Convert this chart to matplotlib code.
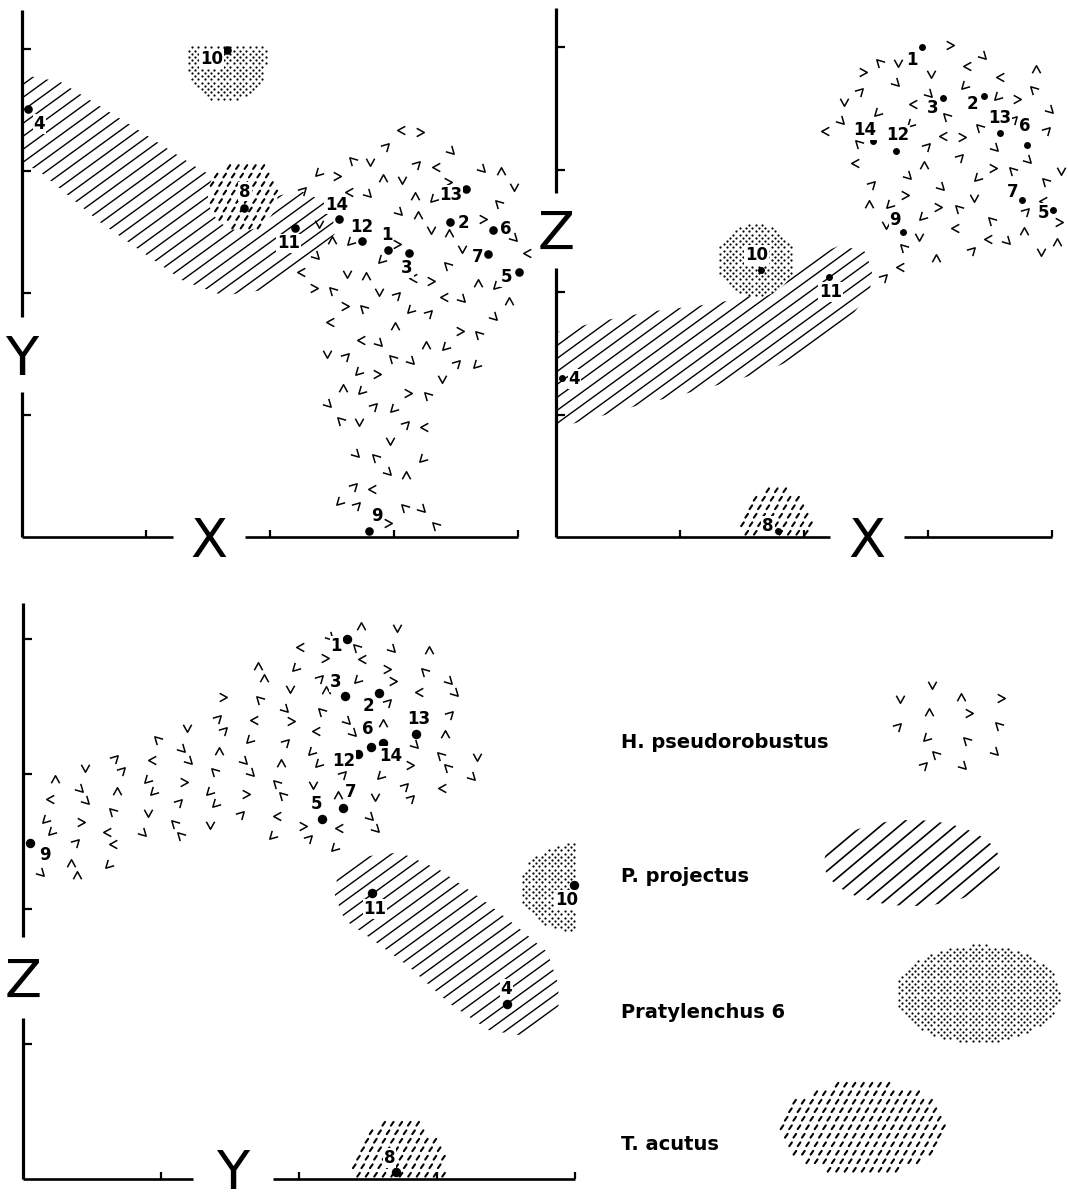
"""Three projections (X-Y, X-Z, Y-Z) of 14 sites with the zones occupied by four nematode species."""

import numpy as np
import matplotlib
matplotlib.use("Agg")
import matplotlib.pyplot as plt
from matplotlib.path import Path
from matplotlib.patches import PathPatch
from matplotlib.collections import LineCollection
from matplotlib.markers import MarkerStyle
from matplotlib.transforms import Affine2D

W, H = 1068, 1203

# site scores on the three axes
sites = ["1", "2", "3", "4", "5", "6", "7", "8", "9", "10", "11", "12", "13", "14"]
score_x = [2.95, 3.45, 3.12, 0.05, 4.01, 3.80, 3.76, 1.79, 2.80, 1.65, 2.20, 2.74, 3.58, 2.56]
score_y = [2.35, 2.58, 2.33, 3.51, 2.17, 2.52, 2.32, 2.70, 0.05, 3.99, 2.53, 2.43, 2.85, 2.61]
score_z = [4.00, 3.60, 3.58, 1.30, 2.67, 3.20, 2.75, 0.05, 2.49, 2.18, 2.12, 3.15, 3.30, 3.23]

species = ["H. pseudorobustus", "P. projectus", "Pratylenchus 6", "T. acutus"]

# species zones in axis units, one set per projection
xy_hp = [(2.24, 3.05), (2.56, 3.25), (3.05, 3.38), (3.45, 3.31), (3.85, 3.09), (4.06, 2.80),
         (4.08, 2.35), (3.98, 1.94), (3.77, 1.57), (3.53, 1.20), (3.29, 0.96), (3.25, 0.55),
         (3.41, 0.06), (2.44, 0.03), (2.60, 0.55), (2.48, 0.96), (2.42, 1.45), (2.44, 1.86),
         (2.23, 2.07), (2.24, 2.52)]
xy_pp = [(0, 3.79), (0.31, 3.73), (0.87, 3.38), (1.44, 3.01), (1.92, 2.76), (2.24, 2.84),
         (2.50, 2.72), (2.52, 2.48), (2.24, 2.22), (1.92, 2.02), (1.62, 1.98), (1.30, 2.10),
         (0.63, 2.58), (0.15, 2.99), (0, 3.07)]
xy_pr = dict(center=(1.65, 4.03), radii=(0.33, 0.45), arc=(180, 360), power=0.75)
xy_ta = dict(center=(1.78, 2.80), radii=(0.28, 0.29), arc=(0, 360))

xz_hp = [(2.21, 3.57), (2.45, 3.89), (2.77, 4.04), (3.18, 4.06), (3.58, 3.98), (3.90, 3.85),
         (4.08, 3.61), (4.10, 3.08), (4.08, 2.51), (4.05, 2.18), (3.82, 2.22), (3.50, 2.30),
         (3.18, 2.30), (2.94, 2.18), (2.81, 1.98), (2.61, 2.02), (2.53, 2.30), (2.45, 2.51),
         (2.37, 2.75), (2.25, 3.08), (2.15, 3.36)]
xz_pp = [(0, 1.67), (0.35, 1.76), (0.76, 1.84), (1.16, 1.89), (1.52, 1.95), (1.81, 2.14),
         (2.05, 2.28), (2.29, 2.38), (2.49, 2.33), (2.55, 2.18), (2.53, 1.99), (2.37, 1.79),
         (1.97, 1.47), (1.65, 1.34), (1.16, 1.20), (0.68, 1.08), (0.27, 0.96), (0, 0.89)]
xz_pr = dict(center=(1.61, 2.26), radii=(0.31, 0.30), arc=(0, 360))
xz_ta = dict(center=(1.77, 0.0), radii=(0.30, 0.41), arc=(0, 180))

yz_hp = [(0.04, 2.88), (0.27, 3.03), (0.63, 3.19), (1.10, 3.34), (1.57, 3.73), (1.93, 3.99),
         (2.30, 4.14), (2.73, 4.10), (3.02, 3.92), (3.31, 3.55), (3.33, 3.03), (3.13, 2.81),
         (2.73, 2.66), (2.48, 2.55), (2.33, 2.40), (2.08, 2.45), (1.72, 2.55), (1.21, 2.57),
         (0.70, 2.35), (0.34, 2.18), (0.09, 2.18), (0.04, 2.44)]
yz_pp = [(2.28, 2.27), (2.49, 2.39), (2.73, 2.42), (3.02, 2.29), (3.33, 2.07), (3.58, 1.87),
         (3.80, 1.68), (3.88, 1.44), (3.88, 1.27), (3.64, 1.06), (3.38, 1.10), (3.09, 1.30),
         (2.80, 1.57), (2.55, 1.76), (2.33, 1.92), (2.26, 2.10)]
yz_pr = dict(center=(4.01, 2.16), radii=(0.41, 0.33), arc=(90, 270))
yz_ta = dict(center=(2.72, 0.0), radii=(0.35, 0.45), arc=(0, 180))

# label offsets in pixels (dx right, dy down) for each projection
off_xy = {"1": (-1, -15), "2": (14, 1), "3": (-2, 15), "4": (11, 15), "5": (-13, 5), "6": (13, -1),
          "7": (-11, 3), "8": (1, -16), "9": (8, -15), "10": (-15, 9), "11": (-6, 15),
          "12": (0, -14), "13": (-15, 6), "14": (-3, -14)}
off_xz = {"1": (-10, 13), "2": (-11, 8), "3": (-10, 10), "4": (12, 1), "5": (-10, 3), "6": (-2, -19),
          "7": (-10, -8), "8": (-10, -5), "9": (-8, -12), "10": (-4, -15), "11": (2, 15),
          "12": (2, -16), "13": (0, -15), "14": (-9, -11)}
off_yz = {"1": (-11, 7), "2": (-11, 13), "3": (-9, -14), "4": (-1, -15), "5": (-6, -15), "6": (-3, -18),
          "7": (8, -16), "8": (-6, -14), "9": (15, 12), "10": (-7, 15), "11": (3, 16),
          "12": (-15, 7), "13": (2, -15), "14": (8, 13)}

NUM_FONT = dict(family=["Liberation Sans Narrow", "DejaVu Sans"], weight="bold", size=12)
AXIS_FONT = dict(family=["DejaVu Sans"], size=39)
VEE = Path([(-0.55, 0.5), (0.0, -0.5), (0.55, 0.5)], [Path.MOVETO, Path.LINETO, Path.LINETO])


def arc_outline(zone):
    t = np.radians(np.linspace(zone["arc"][0], zone["arc"][1], 73))
    p = zone.get("power", 1.0)
    c, s = np.cos(t), np.sin(t)
    cx, cy = zone["center"]
    a, b = zone["radii"]
    return np.c_[cx + a * np.sign(c) * np.abs(c) ** p, cy + b * np.sign(s) * np.abs(s) ** p]


def zone_patch(ax, outline, zorder):
    P = np.asarray(outline, float)
    patch = PathPatch(Path(np.vstack([P, P[:1]]), closed=True), fc="white", ec="none", zorder=zorder)
    ax.add_patch(patch)
    return patch


def line_hatch(ax, outline, unit, angle, gap, lw, zorder):
    patch = zone_patch(ax, outline, zorder)
    ux, uy = unit
    P = np.asarray(outline, float) * [ux, uy]
    d = np.array([np.cos(np.radians(angle)), np.sin(np.radians(angle))])
    n = np.array([-d[1], d[0]])
    pn, pd = P @ n, P @ d
    segs = [[(n * t + d * (pd.min() - 2)) / [ux, uy], (n * t + d * (pd.max() + 2)) / [ux, uy]]
            for t in np.arange(pn.min() + gap * 0.5, pn.max(), gap)]
    lc = LineCollection(segs, colors="k", linewidths=lw, zorder=zorder + 0.1, capstyle="butt")
    ax.add_collection(lc, autolim=False)
    lc.set_clip_path(patch)


def dot_fill(ax, outline, unit, zorder, step=3.2, ms=1.6):
    zone_patch(ax, outline, zorder)
    ux, uy = unit
    P = np.asarray(outline, float) * [ux, uy]
    path = Path(P)
    (x0, y0), (x1, y1) = P.min(0), P.max(0)
    pts = []
    for i, yy in enumerate(np.arange(y0 + step / 2, y1, step)):
        for xx in np.arange(x0 + (i % 2) * step, x1, 2 * step):
            if path.contains_point((xx, yy)):
                pts.append((xx, yy))
    pts = np.array(pts) / [ux, uy]
    ax.plot(pts[:, 0], pts[:, 1], ls="none", marker="o", ms=ms, mew=0, color="k",
            zorder=zorder + 0.1, clip_on=False)


def dash_fill(ax, outline, unit, zorder, angle=55, length=4.6, dx=8.5, dy=8.5, lw=1.5):
    zone_patch(ax, outline, zorder)
    ux, uy = unit
    P = np.asarray(outline, float) * [ux, uy]
    path = Path(P)
    (x0, y0), (x1, y1) = P.min(0), P.max(0)
    h = np.array([np.cos(np.radians(angle)), np.sin(np.radians(angle))]) * length / 2
    segs = []
    for i, yy in enumerate(np.arange(y0 + dy / 2, y1, dy)):
        for xx in np.arange(x0 + (i * 4.2) % dx, x1, dx):
            c = np.array([xx, yy])
            if path.contains_point(c):
                segs.append([(c - h) / [ux, uy], (c + h) / [ux, uy]])
    ax.add_collection(LineCollection(segs, colors="k", linewidths=lw, zorder=zorder + 0.1,
                                     capstyle="round"), autolim=False)


def chevrons(ax, outline, unit, avoid, zorder, cell=600.0, ms=6.0, near=10):
    # scattered "v" marks spread evenly with a low-discrepancy (R2) sequence
    ux, uy = unit
    P = np.asarray(outline, float) * [ux, uy]
    path = Path(P)
    (x0, y0), (x1, y1) = P.min(0), P.max(0)
    n = int((x1 - x0) * (y1 - y0) / cell)
    k = np.arange(1, n + 1)
    u = (0.5 + k * 0.7548776662) % 1.0
    v = (0.5 + k * 0.5698402910) % 1.0
    groups = {}
    for kk, uu, vv in zip(k, u, v):
        c = np.array([x0 + uu * (x1 - x0), y0 + vv * (y1 - y0)])
        if not path.contains_point(c):
            continue
        if len(avoid) and np.hypot(*(np.asarray(avoid) - c).T).min() < near:
            continue
        a = 45 * ((kk * 3 + kk // 8) % 8)
        groups.setdefault(a, []).append(c)
    for a, cs in groups.items():
        cs = np.array(cs) / [ux, uy]
        ax.plot(cs[:, 0], cs[:, 1], ls="none",
                marker=MarkerStyle(VEE, transform=Affine2D().rotate_deg(a)),
                ms=ms, mfc="none", mec="k", mew=1.1, zorder=zorder, clip_on=False)


def draw_panel(box, origin, unit, hvals, vvals, zones, offsets, hlab, vlab, hgap, vgap, vtop, ms,
               hdrop=20):
    L, T, R, B = box
    ox, oy = origin
    ux, uy = unit
    ax = fig.add_axes([L / W, 1 - B / H, (R - L) / W, (B - T) / H])
    ax.set_axis_off()
    hp, pp, pr, ta = zones

    # zones
    line_hatch(ax, pp, unit, angle=36, gap=10.5, lw=1.0, zorder=1)
    dot_fill(ax, arc_outline(pr), unit, zorder=2)
    dash_fill(ax, arc_outline(ta), unit, zorder=2)
    avoid = []
    for s, hx, vy in zip(sites, hvals, vvals):
        dx, dy = offsets[s]
        avoid += [(hx * ux, vy * uy), (hx * ux + dx, vy * uy - dy)]
    chevrons(ax, hp, unit, avoid, zorder=3)

    # axes with a gap for the axis letter
    kw = dict(color="k", solid_capstyle="butt", zorder=4, clip_on=False)
    ax.plot([0, hgap[0]], [0, 0], lw=1.9, **kw)
    ax.plot([hgap[1], 4.0], [0, 0], lw=1.9, **kw)
    ax.plot([0, 0], [0, vgap[0]], lw=2.3, **kw)
    ax.plot([0, 0], [vgap[1], vtop], lw=2.3, **kw)
    for k in [1, 2, 3, 4]:
        ax.plot([k, k], [0, 7 / uy], lw=1.6, **kw)
        ax.plot([0, 9 / ux], [k, k], lw=1.6, **kw)
    ax.annotate(hlab, (np.mean(hgap), 0), xytext=(0, -hdrop), textcoords="offset pixels",
                ha="center", va="baseline", **AXIS_FONT)
    ax.annotate(vlab, (0, np.mean(vgap)), xytext=(0, -20), textcoords="offset pixels",
                ha="center", va="baseline", **AXIS_FONT)

    # sites
    ax.plot(hvals, vvals, ls="none", marker="o", ms=ms, color="k", mew=0, zorder=5, clip_on=False)
    for s, hx, vy in zip(sites, hvals, vvals):
        dx, dy = offsets[s]
        ax.annotate(s, (hx, vy), xytext=(dx, -dy), textcoords="offset pixels",
                    ha="center", va="center", zorder=6, **NUM_FONT,
                    bbox=dict(boxstyle="square,pad=0.05", fc="white", ec="none"))

    ax.set_xlim((L - ox) / ux, (R - ox) / ux)
    ax.set_ylim((oy - B) / uy, (oy - T) / uy)
    return ax


fig = plt.figure(figsize=(W / 100, H / 100), dpi=100)

draw_panel((0, 0, 540, 560), (22, 537), (124, 122), score_x, score_y,
           (xy_hp, xy_pp, xy_pr, xy_ta), off_xy, "X", "Y",
           hgap=(1.22, 1.80), vgap=(1.19, 1.80), vtop=4.32, ms=6.2)
draw_panel((540, 0, 1068, 560), (556, 537), (124, 122.5), score_x, score_z,
           (xz_hp, xz_pp, xz_pr, xz_ta), off_xz, "X", "Z",
           hgap=(2.21, 2.81), vgap=(2.20, 2.81), vtop=4.32, ms=5.0)
draw_panel((0, 595, 600, 1203), (23, 1179), (138, 135), score_y, score_z,
           (yz_hp, yz_pp, yz_pr, yz_ta), off_yz, "Y", "Z",
           hgap=(1.23, 1.81), vgap=(1.19, 1.79), vtop=4.27, ms=6.8, hdrop=10)

# legend: pixel units, y measured up from the bottom of the figure
lg = fig.add_axes([600 / W, 0, 468 / W, 603 / H])
lg.set_axis_off()
unit1 = (1.0, 1.0)
leg_y = [461, 326, 191, 58]
key_hp = dict(center=(958, 479), radii=(70, 48), arc=(0, 360))
key_pp = dict(center=(912, 340), radii=(88, 43), arc=(0, 360))
key_pr = dict(center=(978, 209), radii=(82, 49), arc=(0, 360))
key_ta = dict(center=(863, 75), radii=(85, 46), arc=(0, 360))
chevrons(lg, arc_outline(key_hp), unit1, [], zorder=3, cell=720.0)
line_hatch(lg, arc_outline(key_pp), unit1, angle=40, gap=12, lw=1.2, zorder=1)
dot_fill(lg, arc_outline(key_pr), unit1, zorder=1)
dash_fill(lg, arc_outline(key_ta), unit1, zorder=1)
for name, y in zip(species, leg_y):
    lg.text(621, y, name, ha="left", va="center", fontsize=14, fontweight="bold",
            family=["DejaVu Sans"])
lg.set_xlim(600, 1068)
lg.set_ylim(0, 603)

fig.savefig("out.png", dpi=100)
